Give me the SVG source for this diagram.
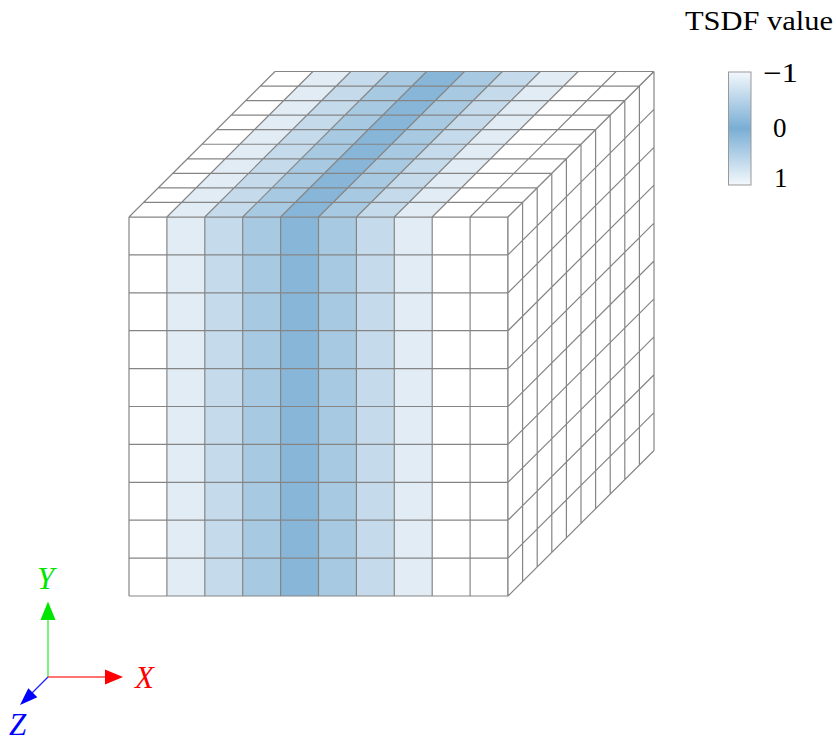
<svg xmlns="http://www.w3.org/2000/svg" width="836" height="742" viewBox="0 0 836 742">
<style>
.grid{fill:none;stroke:#858585;stroke-width:1.2}
.c0{fill:#ffffff}.c1{fill:#e2ecf5}.c2{fill:#c5dbeb}.c3{fill:#a7c9e1}.c4{fill:#88b6d8}
.lbl{font-family:"Liberation Serif","DejaVu Serif",serif;fill:#000}
.ax{font-family:"Liberation Serif","DejaVu Serif",serif;font-style:italic;font-size:31px}
</style>
<defs>
<linearGradient id="cb" x1="0" y1="0" x2="0" y2="1">
<stop offset="0" stop-color="#f3f8fc"/>
<stop offset="0.5" stop-color="#7aaed5"/>
<stop offset="1" stop-color="#f3f8fc"/>
</linearGradient>
</defs>
<rect width="836" height="742" fill="#fff"/>
<g id="cube">
<g id="front-face">
<rect class="c0" x="129" y="217" width="37.9" height="379"/>
<rect class="c1" x="166.9" y="217" width="37.9" height="379"/>
<rect class="c2" x="204.8" y="217" width="37.9" height="379"/>
<rect class="c3" x="242.7" y="217" width="37.9" height="379"/>
<rect class="c4" x="280.6" y="217" width="37.9" height="379"/>
<rect class="c3" x="318.5" y="217" width="37.9" height="379"/>
<rect class="c2" x="356.4" y="217" width="37.9" height="379"/>
<rect class="c1" x="394.3" y="217" width="37.9" height="379"/>
<rect class="c0" x="432.2" y="217" width="75.8" height="379"/>
<path class="grid" d="M129 217V596M166.9 217V596M204.8 217V596M242.7 217V596M280.6 217V596M318.5 217V596M356.4 217V596M394.3 217V596M432.2 217V596M470.1 217V596M508 217V596
M129 217H508M129 254.9H508M129 292.8H508M129 330.7H508M129 368.6H508M129 406.5H508M129 444.4H508M129 482.3H508M129 520.2H508M129 558.1H508M129 596H508"/>
</g>
<g id="top-face">
<polygon class="c0" points="129,217 166.9,217 312.9,71.5 275,71.5"/>
<polygon class="c1" points="166.9,217 204.8,217 350.8,71.5 312.9,71.5"/>
<polygon class="c2" points="204.8,217 242.7,217 388.7,71.5 350.8,71.5"/>
<polygon class="c3" points="242.7,217 280.6,217 426.6,71.5 388.7,71.5"/>
<polygon class="c4" points="280.6,217 318.5,217 464.5,71.5 426.6,71.5"/>
<polygon class="c3" points="318.5,217 356.4,217 502.4,71.5 464.5,71.5"/>
<polygon class="c2" points="356.4,217 394.3,217 540.3,71.5 502.4,71.5"/>
<polygon class="c1" points="394.3,217 432.2,217 578.2,71.5 540.3,71.5"/>
<polygon class="c0" points="432.2,217 508,217 654,71.5 578.2,71.5"/>
<path class="grid" d="M129 217L275 71.5M166.9 217L312.9 71.5M204.8 217L350.8 71.5M242.7 217L388.7 71.5M280.6 217L426.6 71.5M318.5 217L464.5 71.5M356.4 217L502.4 71.5M394.3 217L540.3 71.5M432.2 217L578.2 71.5M470.1 217L616.1 71.5M508 217L654 71.5
M129 217H508M143.6 202.45H522.6M158.2 187.9H537.2M172.8 173.35H551.8M187.4 158.8H566.4M202 144.25H581M216.6 129.7H595.6M231.2 115.15H610.2M245.8 100.6H624.8M260.4 86.05H639.4M275 71.5H654"/>
</g>
<g id="right-face">
<polygon fill="#fff" points="508,217 654,71.5 654,450.5 508,596"/>
<path class="grid" d="M508 217V596M522.6 202.45V581.45M537.2 187.9V566.9M551.8 173.35V552.35M566.4 158.8V537.8M581 144.25V523.25M595.6 129.7V508.7M610.2 115.15V494.15M624.8 100.6V479.6M639.4 86.05V465.05M654 71.5V450.5
M508 217L654 71.5M508 254.9L654 109.4M508 292.8L654 147.3M508 330.7L654 185.2M508 368.6L654 223.1M508 406.5L654 261M508 444.4L654 298.9M508 482.3L654 336.8M508 520.2L654 374.7M508 558.1L654 412.6M508 596L654 450.5"/>
</g>
</g>
<g id="legend">
<text class="lbl" x="685" y="30" font-size="27" textLength="148" lengthAdjust="spacingAndGlyphs">TSDF value</text>
<rect x="728.5" y="72" width="22.5" height="113" fill="url(#cb)" stroke="#999" stroke-width="1"/>
<text class="lbl" x="763" y="82" font-size="27" textLength="35" lengthAdjust="spacingAndGlyphs">−1</text>
<text class="lbl" x="773" y="137" font-size="27">0</text>
<text class="lbl" x="774" y="187" font-size="27">1</text>
</g>
<g id="axes">
<g id="axis-y">
<line x1="48" y1="677" x2="48" y2="619" stroke="#33ee33" stroke-width="1.3"/>
<polygon points="48,601.5 40.5,620 55.5,620" fill="#00e600"/>
<text class="ax" x="37" y="589" fill="#00e600">Y</text>
</g>
<g id="axis-x">
<line x1="48" y1="677" x2="106" y2="677" stroke="#ff4444" stroke-width="1.3"/>
<polygon points="123,677 105,669.5 105,684.5" fill="#ff0000"/>
<text class="ax" x="135" y="688" fill="#ff0000">X</text>
</g>
<g id="axis-z">
<line x1="48" y1="677" x2="31.5" y2="693.5" stroke="#2222ff" stroke-width="1.3"/>
<polygon points="20,705 37.3,697.2 28.3,688.2" fill="#0000ff"/>
<text class="ax" x="9" y="735" fill="#0000ff">Z</text>
</g>
</g>
</svg>
